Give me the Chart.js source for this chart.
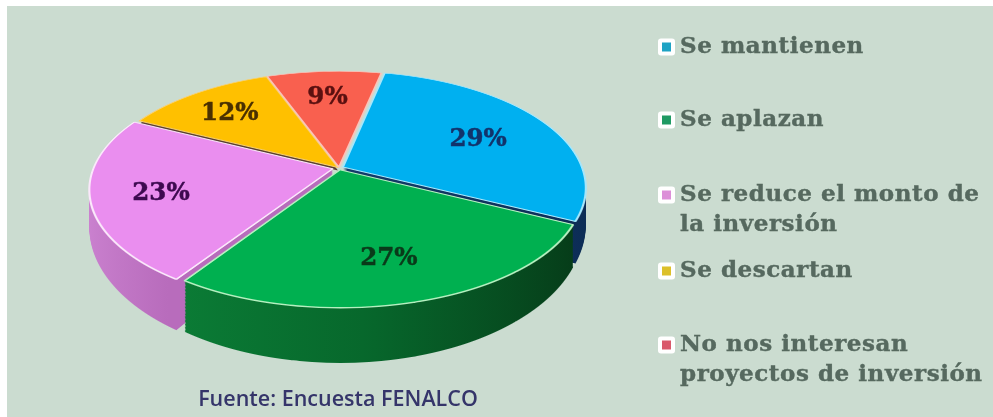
<!DOCTYPE html>
<html><head><meta charset="utf-8">
<script src="https://cdn.jsdelivr.net/npm/chart.js@4"></script>
<style>html,body{margin:0;padding:0;background:#fff}canvas{display:block;filter:blur(0.5px)}</style>
</head><body><canvas id="c" width="993" height="417"></canvas>
<script>
const categories = ['Se mantienen','Se aplazan','Se reduce el monto de la inversión','Se descartan','No nos interesan proyectos de inversión'];
const values = [29,27,23,12,9];
const faceColors = ['#00b0f0','#00b050','#ea8eef','#ffc000','#f9604f'];
const edgeColors = ['#a5e6fb','#b5f0c0','#fbe8fb','#f8d070','#f9c4bb'];
const labelColors = ['#12336b','#0a3a1a','#3d0a50','#4a3000','#5a1010'];
const markerColors = ['#1ea3c4','#1f9a63','#dc8fd8','#dcc02a','#d9596b'];
const sliceOffsets = [18,16,26,6,6];
const sourceText = 'Fuente: Encuesta FENALCO';

// camera of the tilted disc
const PERSP=0.176, TILT=112.9, FLOOR_DROP=34, FLOOR_TILT=130;
const labelRadial=[0.68,0.71,0.745,0.75,0.74];
const legendY=[47,120,195,271,345];

const pie3d={id:'pie3d',
 beforeDatasetsDraw(chart){
  const ctx=chart.ctx, arcs=chart.getDatasetMeta(0).data;
  const cx=arcs[0].x, cy=arcs[0].y, W=chart.width, H=chart.height, R=arcs[0].outerRadius;
  // draw one arc through a perspective projection, one pixel row at a time
  const project=(arc,yc,tilt,from,to)=>{
    for(let y=Math.floor(from);y<Math.min(to,H);y++){
      const dy=y+0.5-yc, Y=dy/(tilt+PERSP*dy), w=1-PERSP*Y;
      ctx.save();ctx.beginPath();ctx.rect(0,y,W,1);ctx.clip();
      ctx.translate(cx,y+0.5);ctx.scale(1/w,tilt/(R*w*w));ctx.translate(-cx,-(cy+Y*R));
      arc.draw(ctx);ctx.restore();
    }
  };
  const wallStops={
   0:[-R,R,[[0,'#1a4a80'],[1,'#0c2c55']]],
   1:[-150,225,[[0,'#0b7d36'],[0.45,'#07682c'],[1,'#063a18']]],
   2:[-R,-140,[[0,'#cb82d0'],[1,'#b86cbc']]]};
  const withWall=(arc,fill,fn)=>{
    const saved=arc.options;
    arc.options=Object.assign({},saved,{backgroundColor:fill,borderWidth:0});
    fn();arc.options=saved;
  };
  // thin dark underside seen through the gap below the yellow slice
  withWall(arcs[3],'#5a3f30',()=>project(arcs[3],cy+3,TILT,cy-120,cy+60));
  // side walls
  [0,2,1].forEach(i=>{
    const [g0,g1,stops]=wallStops[i];
    const g=ctx.createLinearGradient(cx+g0,0,cx+g1,0);
    stops.forEach(s=>g.addColorStop(s[0],s[1]));
    withWall(arcs[i],g,()=>{
      const N=36;
      for(let s=N;s>=1;s--){
        const t=s/N, yc=cy+FLOOR_DROP*t, tilt=TILT+(FLOOR_TILT-TILT)*t;
        project(arcs[i],yc,tilt,yc,yc+tilt/(1-PERSP)+6);
      }
    });
  });
  // top faces
  const top=cy-TILT/(1+PERSP)-10, bottom=cy+TILT/(1-PERSP)+10;
  [3,4,0,2,1].forEach(i=>project(arcs[i],cy,TILT,top,bottom));
  // percentage labels
  ctx.save();ctx.textAlign='center';ctx.textBaseline='middle';
  ctx.font='bold 24.5px "DejaVu Serif"';ctx.lineWidth=0.5;
  arcs.forEach((a,i)=>{
    const mid=(a.startAngle+a.endAngle)/2, r=labelRadial[i];
    const X=Math.cos(mid)*r, Y=Math.sin(mid)*r, w=1-PERSP*Y;
    const px=cx+X*R/w, py=cy+TILT*Y/w+3;
    ctx.fillStyle=ctx.strokeStyle=labelColors[i];
    ctx.fillText(values[i]+'%',px,py);ctx.strokeText(values[i]+'%',px,py);
  });
  ctx.restore();
  // legend
  ctx.save();ctx.textBaseline='middle';ctx.textAlign='left';
  ctx.font='bold 23px "DejaVu Serif"';ctx.letterSpacing='0.55px';ctx.lineWidth=0.4;
  categories.forEach((c,i)=>{
    const y=legendY[i];
    ctx.fillStyle='#ffffff';ctx.beginPath();ctx.roundRect(658,y-8.5,17,17,3);ctx.fill();
    ctx.fillStyle=markerColors[i];ctx.fillRect(662,y-4.5,9,9);
    ctx.fillStyle=ctx.strokeStyle='#56695f';
    let line='',ly=y;
    const put=(s,yy)=>{ctx.fillText(s,680,yy);ctx.strokeText(s,680,yy);};
    c.split(' ').forEach(w=>{
      const tr=line?line+' '+w:w;
      if(ctx.measureText(tr).width>313){put(line,ly);line=w;ly+=30.5;}else line=tr;
    });
    put(line,ly);
  });
  ctx.restore();
  // source
  ctx.save();ctx.textAlign='center';ctx.textBaseline='middle';
  ctx.font='600 21.5px "Open Sans"';ctx.fillStyle='#35356a';
  ctx.fillText(sourceText,338,400);ctx.restore();
  return false;
 }};
const frame={id:'frame',beforeDraw(chart){
  const c=chart.ctx;c.save();c.fillStyle='#fff';c.fillRect(0,0,chart.width,chart.height);
  c.fillStyle='#cbdcd0';c.fillRect(7,6,chart.width-7,chart.height-6);c.restore();}};

new Chart(document.getElementById('c'),{
 type:'pie',
 data:{labels:categories,datasets:[{data:values,backgroundColor:faceColors,borderColor:edgeColors,borderWidth:2,offset:sliceOffsets}]},
 options:{responsive:false,animation:false,rotation:12,radius:239,
  layout:{padding:{left:0,top:0,right:315,bottom:81}},
  plugins:{legend:{display:false},tooltip:{enabled:false}}},
 plugins:[frame,pie3d]
});
</script></body></html>
